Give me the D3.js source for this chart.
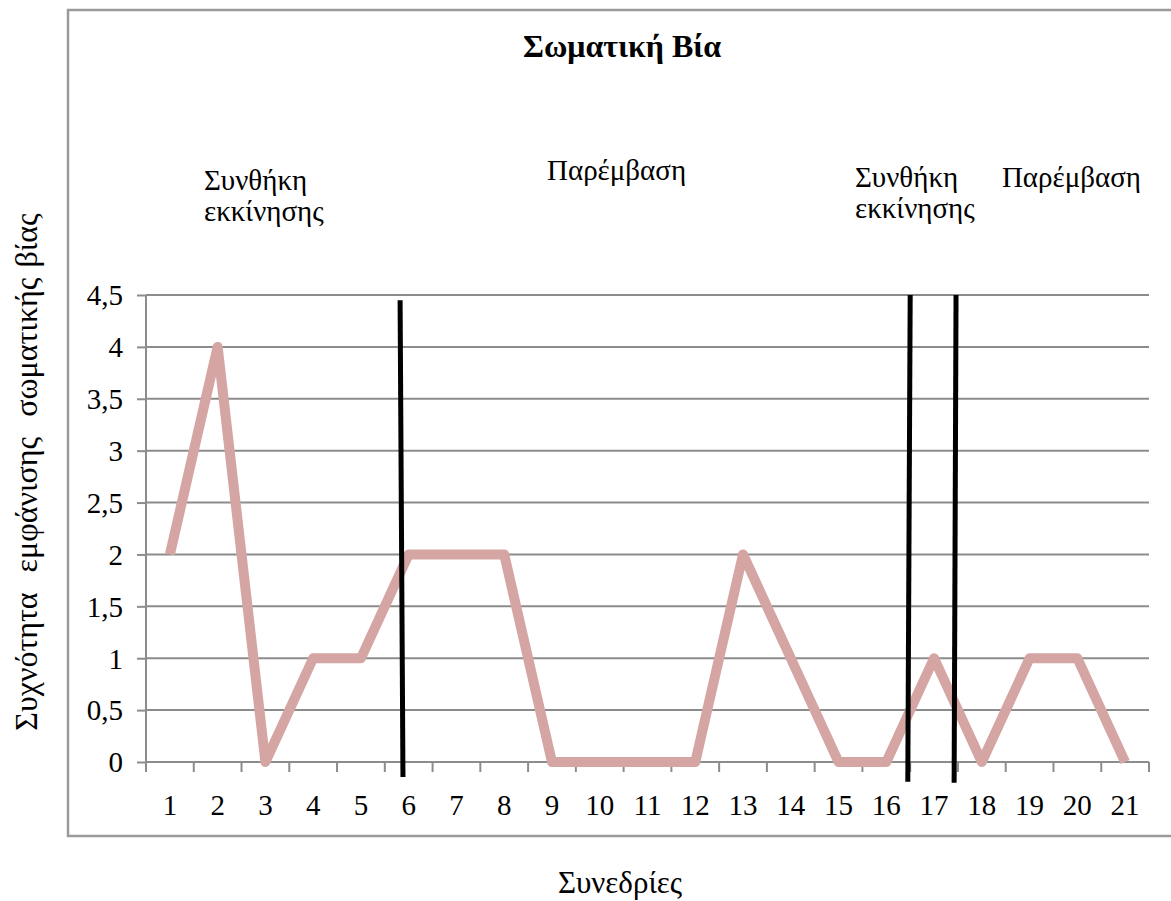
<!DOCTYPE html>
<html>
<head>
<meta charset="utf-8">
<script src="https://cdn.jsdelivr.net/npm/d3@7/dist/d3.min.js"></script>
<style>
  html, body { margin: 0; padding: 0; background: #fff; }
  svg { display: block; }
  text { font-family: "Liberation Serif", "Times New Roman", serif; fill: #000; }
</style>
</head>
<body>
<div id="chart"></div>
<script>
// ---- data ----
const sessions = [1,2,3,4,5,6,7,8,9,10,11,12,13,14,15,16,17,18,19,20,21];
const frequency = [2,4,0,1,1,2,2,2,0,0,0,0,2,1,0,0,1,0,1,1,0];
const yTicks = [0,0.5,1,1.5,2,2.5,3,3.5,4,4.5];
const titleText = "Σωματική Βία";
const yTitle = "Συχνότητα  εμφάνισης  σωματικής βίας";
const xTitle = "Συνεδρίες";
// phase separator lines, in data units (session position, frequency)
const phaseLines = [
  {x1: 5.82, y1: 4.45, x2: 5.88, y2: -0.145},
  {x1: 16.50, y1: 4.5, x2: 16.45, y2: -0.19},
  {x1: 17.46, y1: 4.5, x2: 17.42, y2: -0.20}
];
// phase labels (left edge in session units)
const phaseLabels = [
  {lines: ["Συνθήκη", "εκκίνησης"], at: 1.714},
  {lines: ["Παρέμβαση"], at: 8.896},
  {lines: ["Συνθήκη", "εκκίνησης"], at: 15.344},
  {lines: ["Παρέμβαση"], at: 18.42}
];
const phaseBaselines = [190, 180, 187, 187];

const W = 1171, H = 901;
const plot = {left: 146, right: 1149, top: 295, bottom: 762};

const svg = d3.select("#chart").append("svg").attr("width", W).attr("height", H);

// outer frame (right side cut off by the image edge)
svg.append("path")
  .attr("d", `M${W+5},10 H68 V836 H${W+5}`)
  .attr("fill", "none").attr("stroke", "#9a9a9a").attr("stroke-width", 2.5);

const x = d3.scaleLinear().domain([0.5, 21.5]).range([plot.left, plot.right]);
const y = d3.scaleLinear().domain([0, 4.5]).range([plot.bottom, plot.top]);

const gridColor = "#8c8c8c";

// gridlines
svg.append("g").selectAll("line").data(yTicks).join("line")
  .attr("x1", plot.left).attr("x2", plot.right)
  .attr("y1", d => y(d)).attr("y2", d => y(d))
  .attr("stroke", gridColor).attr("stroke-width", 2);

// y axis
const yAxis = svg.append("g").attr("transform", `translate(${plot.left},0)`)
  .call(d3.axisLeft(y).tickValues(yTicks).tickSize(9).tickPadding(14)
    .tickFormat(d => String(d).replace(".", ",")));
yAxis.attr("font-family", null);
yAxis.select(".domain").remove();
yAxis.selectAll(".tick line").attr("stroke", gridColor).attr("stroke-width", 2);
yAxis.selectAll(".tick text").style("font-size", "29px").attr("dy", "0.34em");
svg.append("line")
  .attr("x1", plot.left).attr("x2", plot.left)
  .attr("y1", plot.top).attr("y2", plot.bottom + 9)
  .attr("stroke", gridColor).attr("stroke-width", 2);

// x axis
const boundaries = d3.range(0.5, 22, 1);
const xAxis = svg.append("g").attr("transform", `translate(0,${plot.bottom})`);
xAxis.append("line").attr("x1", plot.left).attr("x2", plot.right)
  .attr("stroke", gridColor).attr("stroke-width", 2);
xAxis.selectAll("line.tk").data(boundaries).join("line").attr("class", "tk")
  .attr("x1", d => x(d)).attr("x2", d => x(d)).attr("y1", 0).attr("y2", 10)
  .attr("stroke", gridColor).attr("stroke-width", 2);
xAxis.selectAll("text").data(sessions).join("text")
  .attr("x", d => x(d)).attr("y", 53)
  .attr("text-anchor", "middle").style("font-size", "29px")
  .text(d => d);

// series line
const line = d3.line().x((d, i) => x(sessions[i])).y(d => y(d));
svg.append("path").datum(frequency)
  .attr("d", line)
  .attr("fill", "none").attr("stroke", "#d5a5a3").attr("stroke-width", 10)
  .attr("stroke-linejoin", "round").attr("stroke-linecap", "butt");

// phase separator lines
svg.append("g").selectAll("line").data(phaseLines).join("line")
  .attr("x1", d => x(d.x1)).attr("y1", d => y(d.y1))
  .attr("x2", d => x(d.x2)).attr("y2", d => y(d.y2))
  .attr("stroke", "#000").attr("stroke-width", 5);

// title
svg.append("text").attr("x", 622).attr("y", 57).attr("text-anchor", "middle")
  .style("font-size", "32px").style("font-weight", "bold").text(titleText);

// phase labels
const pl = svg.append("g");
phaseLabels.forEach((p, k) => {
  p.lines.forEach((s, i) => {
    pl.append("text").attr("text-anchor", "start").style("font-size", "29px")
      .attr("x", x(p.at)).attr("y", phaseBaselines[k] + i * 31).text(s);
  });
});

// axis titles
svg.append("text")
  .attr("transform", "translate(37,472) rotate(-90)")
  .attr("text-anchor", "middle").style("font-size", "32px")
  .style("white-space", "pre").style("word-spacing", "2px")
  .attr("xml:space", "preserve")
  .text(yTitle);
svg.append("text").attr("x", 620).attr("y", 893).attr("text-anchor", "middle")
  .style("font-size", "31px").text(xTitle);
</script>
</body>
</html>
